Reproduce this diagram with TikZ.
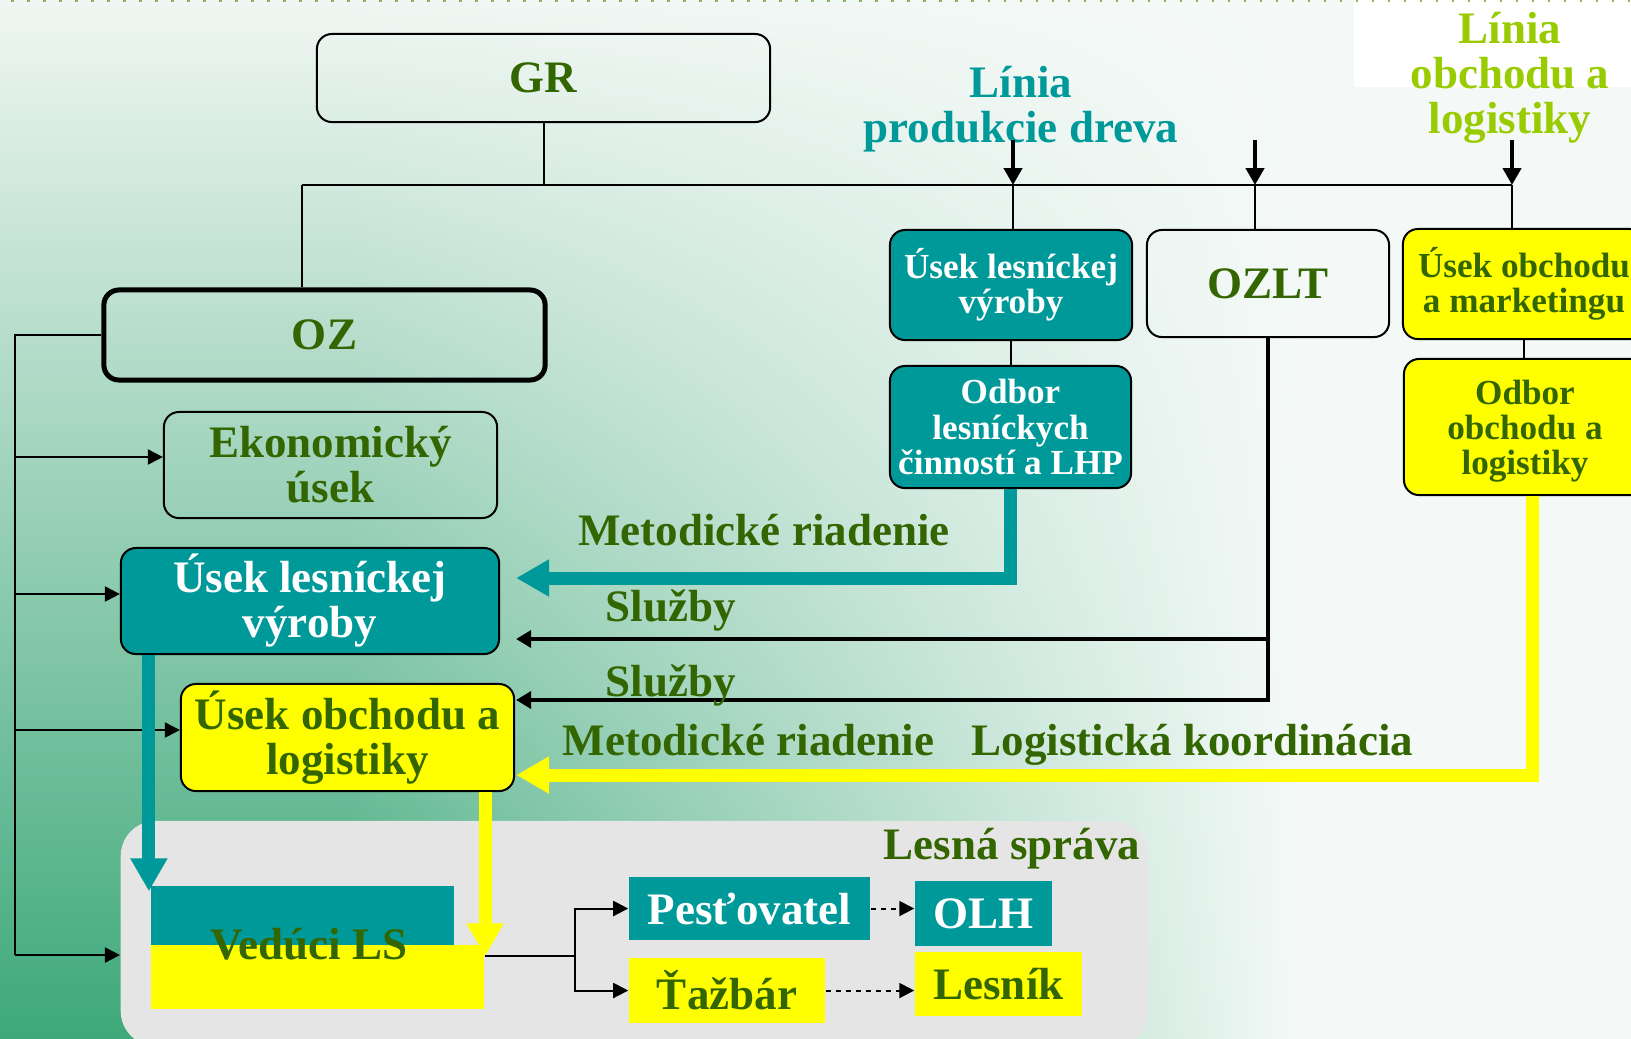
\documentclass[tikz,border=0pt]{standalone}
\usepackage{fontspec}
\setmainfont{Liberation Serif}
\usetikzlibrary{arrows.meta,calc,shadings}
\definecolor{tealc}{RGB}{0,153,153}
\definecolor{yelc}{RGB}{255,255,0}
\definecolor{dgreen}{RGB}{51,102,0}
\definecolor{lgreen}{RGB}{153,204,0}
\definecolor{bgtop}{RGB}{242,247,244}
\definecolor{bgbot}{RGB}{60,168,120}
\definecolor{bgright}{RGB}{244,249,247}
\definecolor{lsgray}{RGB}{229,229,229}
\definecolor{dotc}{RGB}{135,180,95}
\begin{document}
\begin{tikzpicture}[x=0.01cm,y=-0.01cm,
  bigfont/.style={font=\bfseries\fontsize{12.8}{12.8}\selectfont},
  smallfont/.style={font=\bfseries\fontsize{10}{10}\selectfont},
  box/.style={draw=black, line width=0.02cm, rounded corners=0.15cm, inner sep=0pt, align=center, text=dgreen, bigfont},
  tealbox/.style={box, fill=tealc, text=white},
  yelbox/.style={box, fill=yelc, text=dgreen},
  flatbox/.style={inner sep=0pt, bigfont},
  lbl/.style={anchor=base, inner sep=0pt, bigfont, text=dgreen},
  conn/.style={draw=black, line width=0.02cm},
  busarr/.style={conn, -{Triangle[length=0.15cm,width=0.15cm]}},
  svc/.style={draw=black, line width=0.035cm, -{Triangle[length=0.15cm,width=0.17cm]}},
  toparr/.style={draw=black, line width=0.045cm, -{Triangle[length=0.17cm,width=0.18cm]}},
  fatarr/.style={line width=0.13cm, -{Triangle[length=0.33cm,width=0.35cm]}},
  dsharr/.style={conn, dash pattern=on 0.05cm off 0.05cm, -{Triangle[length=0.15cm,width=0.15cm]}}
]
\useasboundingbox (0,0) rectangle (1631,1038);
\clip (0,0) rectangle (1631,1038);
% background
\shade[top color=bgtop, bottom color=bgbot] (-10,-10) rectangle (1650,1050);
\fill[bgright] (1280,-10) rectangle (1650,1050);
\shade[upper left=bgtop, lower left=bgbot, upper right=bgright, lower right=bgright] (350,-10) rectangle (1300,1050);
\fill[white] (1354,-10) rectangle (1650,87);
\draw[dotc, line width=0.025cm, dash pattern=on 0.025cm off 0.135cm] (11,1) -- (1631,1);

% Lesna sprava region
\node[fill=lsgray, rounded corners=0.35cm, minimum width=10.27cm, minimum height=2.25cm, inner sep=0pt] (ls) at (634.5,933.5) {};
\node[lbl] (lstxt) at (1012,859) {Lesná správa};
\node[fill=tealc, minimum width=3.03cm, minimum height=0.59cm, inner sep=0pt] (vedt) at (302.5,915.5) {};
\node[fill=yelc, minimum width=3.33cm, minimum height=0.64cm, inner sep=0pt] (vedy) at (317.5,977) {};
\node[lbl] (ved) at (309,959) {Vedúci LS};
\node[flatbox, fill=tealc, text=white, minimum width=2.41cm, minimum height=0.63cm] (pes) at (749.5,908.5) {Pesťovatel};
\node[flatbox, fill=yelc, text=dgreen, minimum width=1.96cm, minimum height=0.65cm] (taz) at (727,990.5) {Ťažbár};
\node[flatbox, fill=tealc, text=white, minimum width=1.37cm, minimum height=0.65cm] (olh) at (983.5,913.5) {OLH};
\node[flatbox, fill=yelc, text=dgreen, minimum width=1.67cm, minimum height=0.64cm] (les) at (998.5,984) {Lesník};

% boxes
\node[box, minimum width=4.53cm, minimum height=0.88cm] (gr) at (543.5,78) {GR};
\node[box, line width=0.05cm, minimum width=4.41cm, minimum height=0.9cm] (oz) at (324.5,335) {OZ};
\node[box, minimum width=3.33cm, minimum height=1.06cm] (ek) at (330.5,465) {Ekonomický\\úsek};
\node[tealbox, minimum width=3.78cm, minimum height=1.06cm] (ulvl) at (310,601) {Úsek lesníckej\\výroby};
\node[yelbox, minimum width=3.33cm, minimum height=1.07cm] (uol) at (347.5,737.5) {Úsek obchodu a\\logistiky};
\node[tealbox, smallfont, minimum width=2.42cm, minimum height=1.1cm] (ulvr) at (1011,285) {Úsek lesníckej\\výroby};
\node[box, minimum width=2.42cm, minimum height=1.07cm] (ozlt) at (1268,283.5) {OZLT};
\node[yelbox, smallfont, minimum width=2.42cm, minimum height=1.1cm] (uom) at (1524,284) {Úsek obchodu\\a marketingu};
\node[tealbox, smallfont, minimum width=2.41cm, minimum height=1.22cm] (lhp) at (1010.5,427) {Odbor\\lesníckych\\činností a LHP};
\node[yelbox, smallfont, text depth=0pt, minimum width=2.42cm, minimum height=1.36cm] (ool) at (1525,427) {Odbor\\obchodu a\\logistiky};

% line labels
\node[bigfont, text=tealc, align=center, inner sep=0pt] (lpd) at (1021,109) {Línia\\produkcie dreva};
\node[bigfont, text=lgreen, align=center, inner sep=0pt] (lol) at (1510,77.5) {Línia\\obchodu a\\logistiky};

% top structure
\coordinate (hl) at (302,185);
\coordinate (hr) at (1512,185);
\coordinate (t1) at (1013,140);
\coordinate (t2) at (1255,140);
\coordinate (t3) at (1512,140);
\draw[conn] (gr.south) -- (gr.south |- hl);
\draw[conn] (hl) -- (hr);
\draw[conn] (hl) -- (hl |- oz.north);
\draw[conn] (t1 |- hl) -- (t1 |- ulvr.north);
\draw[conn] (t2 |- hl) -- (t2 |- ozlt.north);
\draw[conn] (hr) -- (hr |- uom.north);
\draw[toparr] (t1) -- (t1 |- hl);
\draw[toparr] (t2) -- (t2 |- hl);
\draw[toparr] (t3) -- (t3 |- hl);
\draw[conn] (ulvr.south) -- (ulvr.south |- lhp.north);
\draw[conn] (uom.south) -- (uom.south |- ool.north);

% left bus
\coordinate (lb) at (15,335);
\coordinate (ekin) at ([yshift=0.08cm]ek.west);
\coordinate (ulvin) at ([yshift=0.07cm]ulvl.west);
\coordinate (uolin) at ([yshift=0.075cm]uol.west);
\coordinate (lsin) at ([yshift=-0.215cm]ls.west);
\draw[conn] (oz.west) -- (lb) -- (lb |- lsin);
\draw[busarr] (lb |- ekin) -- (ekin);
\draw[busarr] (lb |- ulvin) -- (ulvin);
\draw[busarr] (lb |- uolin) -- (uolin);
\draw[busarr] (lb |- lsin) -- (lsin);

% services from OZLT
\coordinate (s1) at ($(ulvl.east)+(16,38)$);
\coordinate (s2) at ($(uol.east)+(1,-37.5)$);
\draw[svc] (ozlt.south) |- (s2);
\draw[svc] (ozlt.south |- s1) -- (s1);

% fat arrows
\coordinate (tlv) at ([xshift=0.29cm]ulvl.south west);
\coordinate (yuo) at ([xshift=-0.30cm]uol.south east);
\coordinate (yo) at ([xshift=0.07cm]ool.south);
\draw[fatarr, tealc] (tlv) -- ($(tlv |- vedt.north)+(0,6)$);
\draw[fatarr, yelc] (yuo) -- ($(yuo |- vedy.north)+(0,12)$);
\draw[fatarr, tealc] (lhp.south) |- ($(ulvl.east)+(16,-23)$);
\draw[fatarr, yelc] (yo) |- ($(uol.east)+(1,37.5)$);

% Veduci LS to workers
\coordinate (vo) at ([yshift=0.21cm]vedy.east);
\coordinate (jn) at ($(vo)+(90,0)$);
\draw[conn] (vo) -- (jn);
\draw[busarr] (jn) |- (pes.west);
\draw[busarr] (jn) |- (taz.west);
\draw[dsharr] (pes.east) -- (pes.east -| olh.west);
\draw[dsharr] (taz.east) -- (taz.east -| les.west);

% labels
\node[lbl] (m1) at (764,545) {Metodické riadenie};
\node[lbl] (sl1) at (671,621) {Služby};
\node[lbl] (sl2) at (671,696) {Služby};
\node[lbl] (m2) at (748.5,755) {Metodické riadenie};
\node[lbl] (lk) at (1192.5,755) {Logistická koordinácia};
\end{tikzpicture}
\end{document}
